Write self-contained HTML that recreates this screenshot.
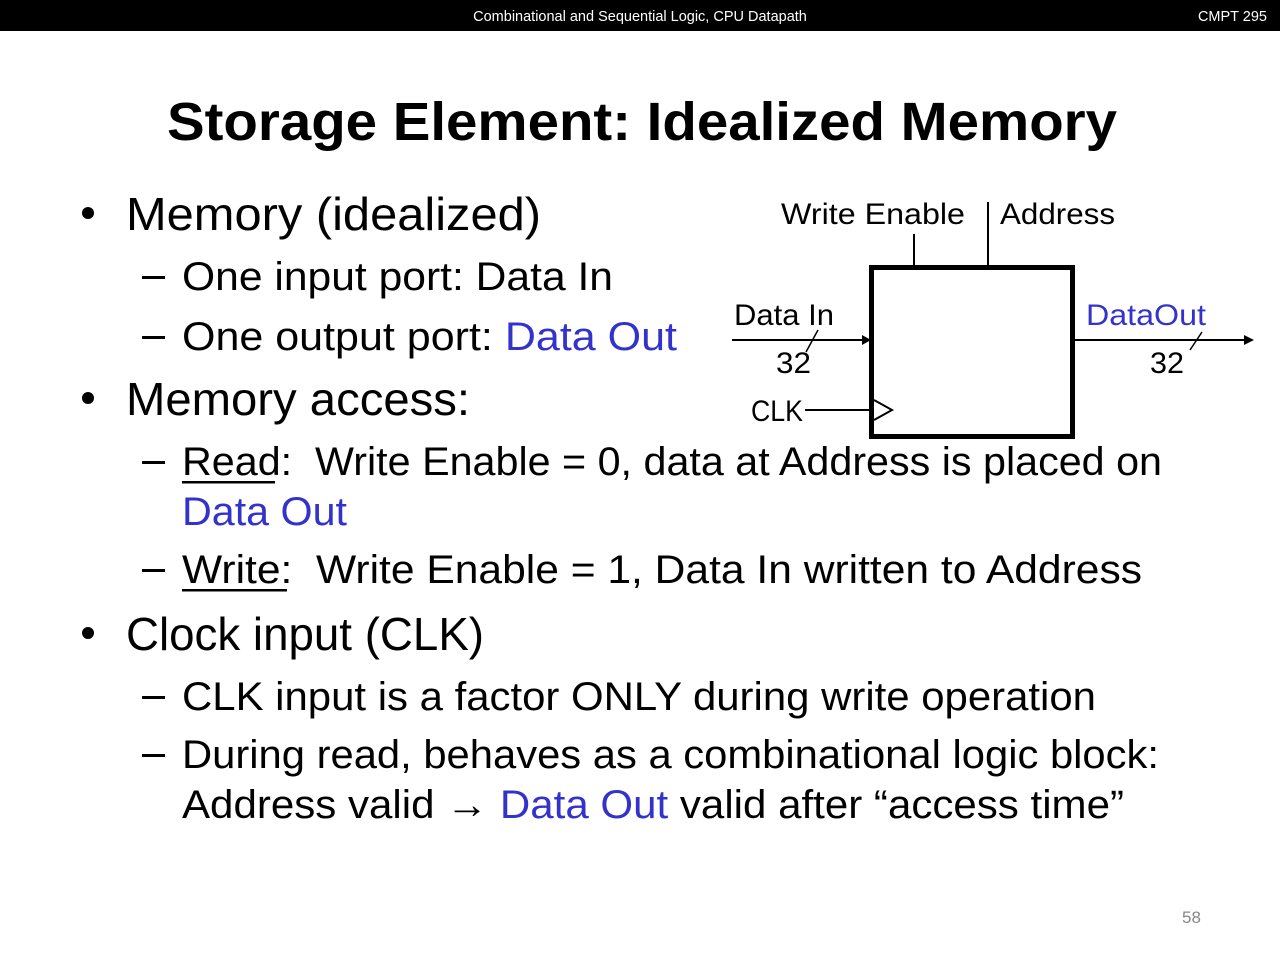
<!DOCTYPE html>
<html><head><meta charset="utf-8"><style>
html,body{margin:0;padding:0;background:#fff;}
svg{display:block;}
text{font-family:"Liberation Sans",sans-serif;}
</style></head><body>
<svg width="1280" height="960" viewBox="0 0 1280 960" xmlns="http://www.w3.org/2000/svg">
<rect x="0" y="0" width="1280" height="31" fill="#000"/>
<text x="640" y="21" font-size="14.5" fill="#fff" text-anchor="middle">Combinational and Sequential Logic, CPU Datapath</text>
<text x="1267" y="21" font-size="14.5" fill="#fff" text-anchor="end">CMPT 295</text>
<text x="167" y="140" font-size="54" font-weight="bold" textLength="950" lengthAdjust="spacingAndGlyphs">Storage Element: Idealized Memory</text>

<g font-size="46">
<circle cx="88" cy="213" r="6" fill="#000"/>
<text x="126" y="230" textLength="415" lengthAdjust="spacingAndGlyphs">Memory (idealized)</text>
<circle cx="88" cy="398" r="6" fill="#000"/>
<text x="126" y="415" textLength="344" lengthAdjust="spacingAndGlyphs">Memory access:</text>
<circle cx="88" cy="633" r="6" fill="#000"/>
<text x="126" y="650" textLength="358" lengthAdjust="spacingAndGlyphs">Clock input (CLK)</text>
</g>
<g font-size="40">
<g fill="#000"><rect x="142" y="276" width="23" height="3"/><rect x="142" y="336" width="23" height="3"/><rect x="142" y="461" width="23" height="3"/><rect x="142" y="569" width="23" height="3"/><rect x="142" y="696" width="23" height="3"/><rect x="142" y="754" width="23" height="3"/></g>
<text x="182" y="290" textLength="431" lengthAdjust="spacingAndGlyphs">One input port: Data In</text>
<text x="182" y="350" textLength="495" lengthAdjust="spacingAndGlyphs">One output port: <tspan fill="#3333cc">Data Out</tspan></text>
<text x="182" y="475" textLength="980" lengthAdjust="spacingAndGlyphs">Read:&#160; Write Enable = 0, data at Address is placed on</text>
<rect x="182" y="481" width="93" height="2.5" fill="#000"/>
<text x="182" y="525" fill="#3333cc" textLength="165" lengthAdjust="spacingAndGlyphs">Data Out</text>
<text x="182" y="583" textLength="960" lengthAdjust="spacingAndGlyphs">Write:&#160; Write Enable = 1, Data In written to Address</text>
<rect x="182" y="589" width="105" height="2.5" fill="#000"/>
<text x="182" y="710" textLength="914" lengthAdjust="spacingAndGlyphs">CLK input is a factor ONLY during write operation</text>
<text x="182" y="768" textLength="977" lengthAdjust="spacingAndGlyphs">During read, behaves as a combinational logic block:</text>
<text x="182" y="818" textLength="942" lengthAdjust="spacingAndGlyphs">Address valid → <tspan fill="#3333cc">Data Out</tspan> valid after “access time”</text>
</g>

<g stroke="#000" fill="none">
<rect x="871.5" y="267.5" width="201" height="169" stroke-width="5"/>
<line x1="914" y1="234" x2="914" y2="266" stroke-width="2"/>
<line x1="988" y1="202" x2="988" y2="266" stroke-width="2"/>
<line x1="732" y1="340" x2="862" y2="340" stroke-width="2"/>
<line x1="1075" y1="340" x2="1244" y2="340" stroke-width="2"/>
<line x1="805" y1="410" x2="872" y2="410" stroke-width="2"/>
<polyline points="874,400 892,410 874,420" stroke-width="2"/>
<line x1="806" y1="352" x2="818" y2="330" stroke-width="1.5"/>
<line x1="1190" y1="350" x2="1202" y2="332" stroke-width="1.5"/>
</g>
<polygon points="862,335 871,340 862,345" fill="#000"/>
<polygon points="1244,335 1254,340 1244,345" fill="#000"/>
<g font-size="30">
<text x="781" y="224" textLength="184" lengthAdjust="spacingAndGlyphs">Write Enable</text>
<text x="1000" y="224" textLength="115" lengthAdjust="spacingAndGlyphs">Address</text>
<text x="734" y="325" textLength="100" lengthAdjust="spacingAndGlyphs">Data In</text>
<text x="1086" y="325" fill="#3333cc" textLength="120" lengthAdjust="spacingAndGlyphs">DataOut</text>
<text x="776" y="373" textLength="35" lengthAdjust="spacingAndGlyphs">32</text>
<text x="1150" y="373" textLength="34" lengthAdjust="spacingAndGlyphs">32</text>
<text x="751" y="421" textLength="52" lengthAdjust="spacingAndGlyphs">CLK</text>
</g>
<text x="1182" y="923" font-size="17" fill="#888">58</text>
</svg>
</body></html>
